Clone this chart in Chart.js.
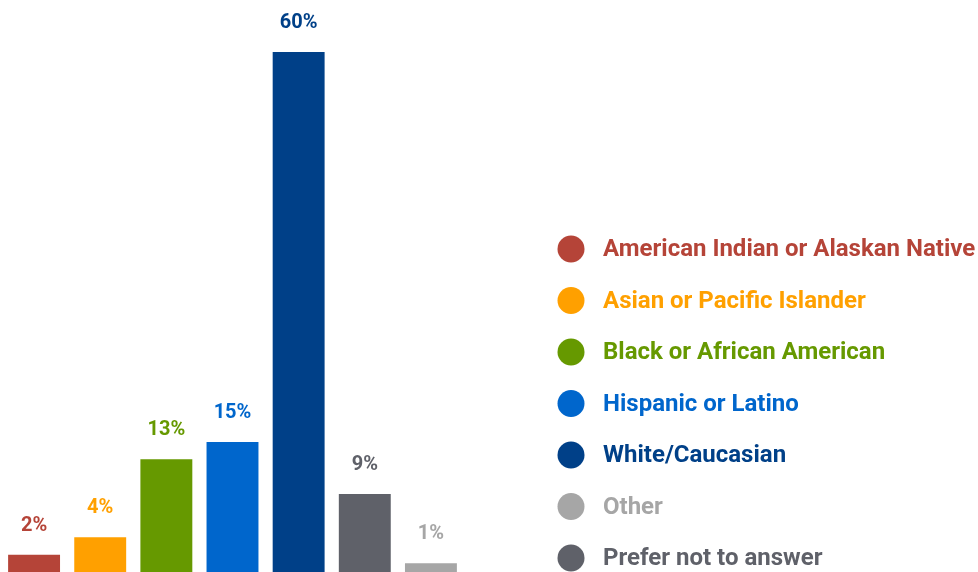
<!DOCTYPE html>
<html>
<head>
<meta charset="utf-8">
<script src="https://cdn.jsdelivr.net/npm/chart.js@4/dist/chart.umd.min.js"></script>
<style>
  html, body { margin: 0; padding: 0; background: #fff; }
  #wrap { width: 978px; height: 572px; }
</style>
</head>
<body>
<div id="wrap"><canvas id="chart" width="978" height="572"></canvas></div>
<script>
// bar order, left to right
const categories = [
  'American Indian or Alaskan Native',
  'Asian or Pacific Islander',
  'Black or African American',
  'Hispanic or Latino',
  'White/Caucasian',
  'Prefer not to answer',
  'Other'
];
const values = [2, 4, 13, 15, 60, 9, 1];
const colors = ['#b54438', '#ffa000', '#669900', '#0066cc', '#004088', '#5f6169', '#a6a6a6'];

// legend order differs from bar order
const legendOrder = [
  'American Indian or Alaskan Native',
  'Asian or Pacific Islander',
  'Black or African American',
  'Hispanic or Latino',
  'White/Caucasian',
  'Other',
  'Prefer not to answer'
];

const FONT = 'Roboto, "Noto Sans", sans-serif';

const valueLabels = {
  id: 'valueLabels',
  afterDatasetsDraw(chart) {
    const ctx = chart.ctx;
    const meta = chart.getDatasetMeta(0);
    ctx.save();
    ctx.font = 'bold 20px ' + FONT;
    ctx.textAlign = 'center';
    ctx.textBaseline = 'middle';
    meta.data.forEach((bar, i) => {
      ctx.fillStyle = colors[i];
      ctx.fillText(values[i] + '%', bar.x, bar.y - 29);
    });
    ctx.restore();
  }
};

const sideLegend = {
  id: 'sideLegend',
  afterDraw(chart) {
    const ctx = chart.ctx;
    ctx.save();
    ctx.font = 'bold 24px ' + FONT;
    ctx.textBaseline = 'middle';
    legendOrder.forEach((name, i) => {
      const c = colors[categories.indexOf(name)];
      const y = 249 + i * 51.5;
      ctx.fillStyle = c;
      ctx.beginPath();
      ctx.arc(571, y, 13.5, 0, Math.PI * 2);
      ctx.fill();
      ctx.fillText(name, 603, y + 1);
    });
    ctx.restore();
  }
};

new Chart(document.getElementById('chart'), {
  type: 'bar',
  data: {
    labels: categories,
    datasets: [{
      data: values,
      backgroundColor: colors,
      borderWidth: 0,
      categoryPercentage: 1,
      barPercentage: 0.785
    }]
  },
  options: {
    responsive: false,
    animation: false,
    layout: { padding: { left: 1, right: 514, top: 0, bottom: 0 } },
    plugins: { legend: { display: false }, tooltip: { enabled: false } },
    scales: {
      x: { display: false },
      y: { display: false, min: 0, max: 66 }
    }
  },
  plugins: [valueLabels, sideLegend]
});
</script>
</body>
</html>
